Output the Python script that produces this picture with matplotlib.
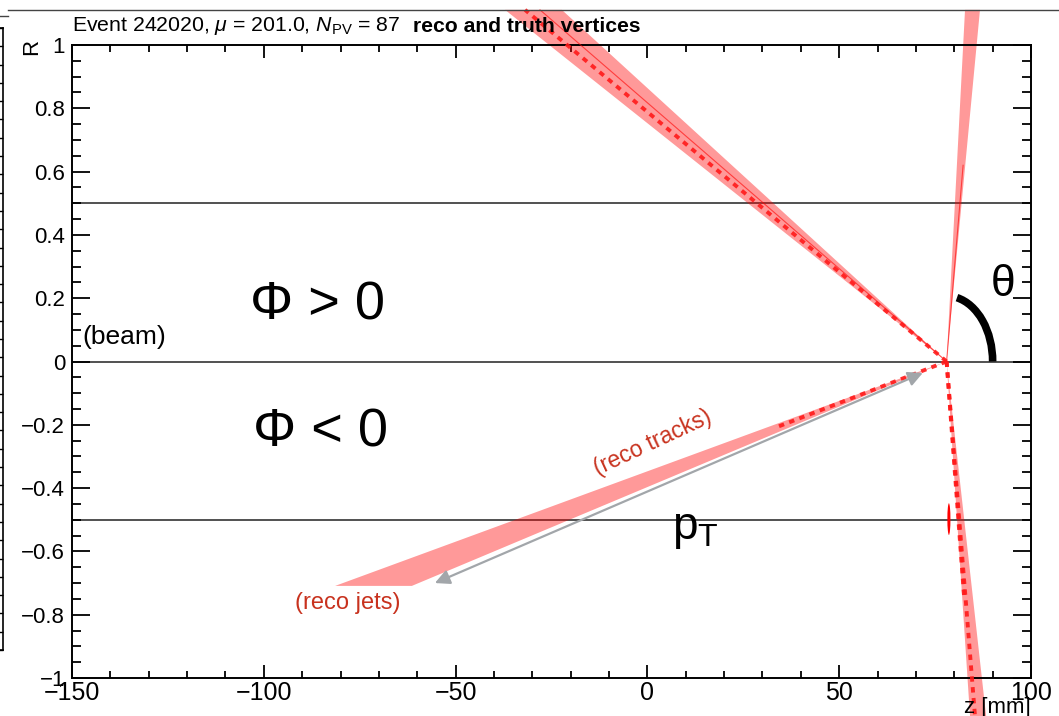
import matplotlib
matplotlib.use("Agg")
import matplotlib.pyplot as plt
from matplotlib import font_manager
from matplotlib.patches import Arc, Ellipse, FancyArrowPatch
from matplotlib.lines import Line2D
import numpy as np

W, H = 1059, 716

names = {f.name for f in font_manager.fontManager.ttflist}
narrow = "Liberation Sans Narrow" if "Liberation Sans Narrow" in names else "Liberation Sans"

plt.rcParams["font.family"] = "Liberation Sans"
plt.rcParams["mathtext.fontset"] = "custom"
plt.rcParams["mathtext.rm"] = narrow
plt.rcParams["mathtext.it"] = narrow + ":italic"
plt.rcParams["mathtext.bf"] = narrow + ":bold"

# event: primary vertex and reference lines in R
vertex_z, vertex_R = 78.0, 0.0
ref_R = [0.5, 0.0, -0.5]

# jet cones, far edges (z, R) of each cone
cone_up_left = [(-37.1, 1.111), (-22.3, 1.111)]
cone_up_right = [(82.8, 1.111), (86.7, 1.111)]
cone_down_right = [(84.1, -1.12), (88.3, -1.12)]
cone_down_left = [(-81.4, -0.709), (-61.4, -0.709)]

# reco tracks, end points (z, R)
tracks_dashed = [(-31.9, 1.111), (85.4, -1.12), (82.6, -0.75), (33.8, -0.207)]
tracks_thin = [(-28.0, 1.111), (82.3, 0.62)]

# truth vertex ellipse
truth_z, truth_R = 78.6, -0.498

# pT arrow
pt_start = (-55.4, -0.70)
pt_end = (71.8, -0.036)

xticks = [-150, -100, -50, 0, 50, 100]
xticklabels = ["\u2212150", "\u2212100", "\u221250", "0", "50", "100"]
yticks = [-1, -0.8, -0.6, -0.4, -0.2, 0, 0.2, 0.4, 0.6, 0.8, 1]
yticklabels = ["\u22121", "\u22120.8", "\u22120.6", "\u22120.4", "\u22120.2", "0",
               "0.2", "0.4", "0.6", "0.8", "1"]

fig = plt.figure(figsize=(W / 100, H / 100), dpi=100)
ax = fig.add_axes([72 / W, 38 / H, 959 / W, 633 / H])
ax.set_xlim(-150, 100)
ax.set_ylim(-1, 1)

for r in ref_R:
    ax.axhline(r, color="#222222", lw=1.1, zorder=1)

red_fill = dict(color="red", alpha=0.4, lw=0, zorder=2, clip_on=False)
for cone in [cone_up_left, cone_up_right, cone_down_right, cone_down_left]:
    zs = [vertex_z, cone[0][0], cone[1][0]]
    rs = [vertex_R, cone[0][1], cone[1][1]]
    ax.fill(zs, rs, **red_fill)

for z, r in tracks_thin:
    ax.plot([vertex_z, z], [vertex_R, r], color="red", lw=0.8, alpha=0.6,
            zorder=3, clip_on=False)
for z, r in tracks_dashed:
    ax.plot([vertex_z, z], [vertex_R, r], color="#ff1a1a", lw=2.8, alpha=0.9,
            dashes=(1.4, 1.4), zorder=4, clip_on=False, solid_capstyle="butt")

ax.add_patch(Ellipse((truth_z, truth_R), 0.8, 0.1, color="red", lw=0, zorder=4))

ax.add_patch(FancyArrowPatch(pt_start, pt_end, arrowstyle="<|-|>", mutation_scale=22,
                             color="#a2a6aa", lw=1.6, shrinkA=0, shrinkB=0, zorder=5))

# theta marker: elliptical arc around the vertex, opening up to ~77 deg
arc_w, arc_h = 24, 0.414
arc_end = np.degrees(np.arctan(np.tan(np.radians(77)) * arc_h / arc_w))
ax.add_patch(Arc((vertex_z, vertex_R), arc_w, arc_h, theta1=0, theta2=arc_end,
                 color="black", lw=5.5, zorder=6, clip_on=False))

ax.text(-103.6, 0.178, "\u03a6 > 0", fontsize=39, va="center", ha="left")
ax.text(-102.8, -0.223, "\u03a6 < 0", fontsize=39, va="center", ha="left")
ax.text(-147.4, 0.077, "(beam)", fontsize=19, va="center", ha="left")
ax.text(92.7, 0.242, "\u03b8", fontsize=32, va="center", ha="center")
ax.text(6.4, -0.53, r"p$_\mathregular{T}$", fontsize=33, va="center", ha="left")
ax.text(1.5, -0.258, "(reco tracks)", fontsize=16.5, color="#c8321e", rotation=25,
        va="center", ha="center", rotation_mode="anchor")
ax.text(-78.0, -0.763, "(reco jets)", fontsize=17, color="#c8321e",
        va="center", ha="center")

ax.set_xticks(xticks)
ax.set_xticklabels(xticklabels, family=[narrow, "Liberation Sans"], fontsize=18)
ax.set_yticks(yticks)
ax.set_yticklabels(yticklabels, fontsize=16)
ax.set_xticks(np.arange(-150, 101, 10), minor=True)
ax.set_yticks(np.arange(-1, 1.001, 0.05), minor=True)
ax.tick_params(which="both", direction="in", top=True, right=True, width=1.3,
               color="black")
ax.tick_params(axis="x", which="major", length=9.5, pad=2)
ax.tick_params(axis="x", which="minor", length=4.7)
ax.tick_params(axis="y", which="major", length=13, pad=5)
ax.tick_params(axis="y", which="minor", length=6.5)
for s in ax.spines.values():
    s.set_linewidth(1.4)

fig.text(32 / W, 1 - 47 / H, "R", fontsize=16, rotation=90, ha="center", va="center")
fig.text(1031 / W, 1 - 697 / H, "z [mm]", fontsize=16, family=[narrow, "Liberation Sans"],
         ha="right", va="top")

fig.text(72 / W, 1 - 26 / H, r"Event 242020, $\mu$ = 201.0, $N_{\mathrm{PV}}$ = 87",
         fontsize=15.3, family=[narrow, "Liberation Sans"], va="center", ha="left",
         zorder=10)
fig.text(413 / W, 1 - 26 / H, "reco and truth vertices", fontsize=15.2,
         family=[narrow, "Liberation Sans"], weight="bold", va="center", ha="left",
         zorder=10)

# neighbouring panel edge and page border
fig.add_artist(Line2D([8 / W, 1], [1 - 10 / H, 1 - 10 / H], color="#444444", lw=1))
fig.add_artist(Line2D([0, 8 / W], [1 - 16 / H, 1 - 16 / H], color="#444444", lw=1))
side = fig.add_axes([-60 / W, 66 / H, 63 / W, 622 / H])
side.set_xlim(0, 1)
side.set_ylim(0, 1)
side.set_xticks([])
side.set_yticks(np.linspace(0, 1, 35))
side.tick_params(axis="y", direction="in", left=False, right=True, labelleft=False,
                 length=6, width=1)
for s in side.spines.values():
    s.set_linewidth(1.2)

fig.savefig("out.png", dpi=100)
